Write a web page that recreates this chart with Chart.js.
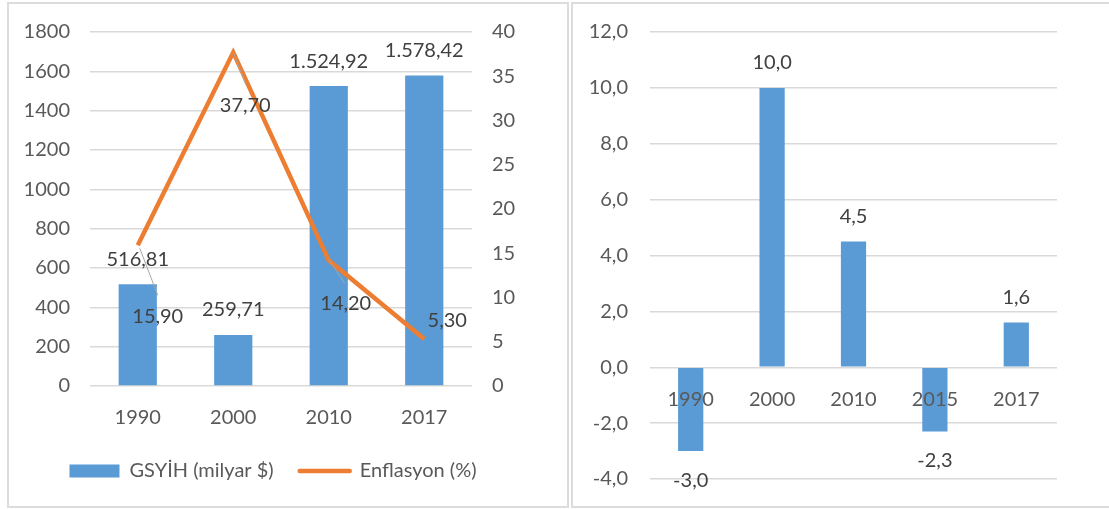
<!DOCTYPE html>
<html>
<head>
<meta charset="utf-8">
<script src="https://cdn.jsdelivr.net/npm/chart.js@4/dist/chart.umd.min.js"></script>
<style>
    body { margin: 0; background: #fff; width: 1109px; height: 509px; overflow: hidden; position: relative; }
    .panel { position: absolute; border: 2px solid #dcdcdc; box-sizing: border-box; }
    #leftPanel { left: 7px; top: 2px; width: 562px; height: 506px; }
    #rightPanel { left: 571px; top: 2px; width: 545px; height: 506px; }
    canvas { position: absolute; }
    #gdpChart { left: 9px; top: 4px; }
    #growthChart { left: 573px; top: 4px; }
</style>
</head>
<body>
<div class="panel" id="leftPanel"></div>
<div class="panel" id="rightPanel"></div>
<canvas id="gdpChart" width="558" height="502"></canvas>
<canvas id="growthChart" width="536" height="503"></canvas>
<script>
// --- data ---
const years = ['1990', '2000', '2010', '2017'];
const gdpValues = [516.81, 259.71, 1524.92, 1578.42];
const inflationValues = [15.90, 37.70, 14.20, 5.30];
const gdpTicks = { min: 0, max: 1800, step: 200 };
const inflationTicks = { min: 0, max: 40, step: 5 };

const growthYears = ['1990', '2000', '2010', '2015', '2017'];
const growthValues = [-3.0, 10.0, 4.5, -2.3, 1.6];
const growthTicks = { min: -4, max: 12, step: 2 };

const BLUE = '#5B9BD5';
const ORANGE = '#ED7D31';
const LABEL_COLOR = '#404040';
const FONT_SIZE = 20;

// label offsets for the inflation line (dx, dy from the point, plus leader line ends)
const lineLabelOffsets = [
    { dx: 20, dy: 71, leader: [2, 3, 20, 50] },
    { dx: 12, dy: 53, leader: [0, 0, 13, 33] },
    { dx: 17, dy: 43, leader: [0, -1, 16, 23] },
    { dx: 23, dy: -19, leader: null }
];

Chart.defaults.font.family = 'Lato, "Open Sans", sans-serif';
Chart.defaults.font.size = FONT_SIZE;
Chart.defaults.color = '#595959';
Chart.defaults.animation = false;

function trNum(v, digits) {
    const neg = v < 0;
    const parts = Math.abs(v).toFixed(digits).split('.');
    const intPart = parts[0].replace(/\B(?=(\d{3})+(?!\d))/g, '.');
    const s = parts[1] ? intPart + ',' + parts[1] : intPart;
    return neg ? '-' + s : s;
}

const labelsPlugin = {
    id: 'valueLabels',
    afterDatasetsDraw(chart, args, opts) {
        const ctx = chart.ctx;
        ctx.save();
        ctx.font = FONT_SIZE + 'px ' + Chart.defaults.font.family;
        ctx.fillStyle = LABEL_COLOR;
        ctx.textAlign = 'center';
        ctx.textBaseline = 'middle';
        chart.data.datasets.forEach((ds, di) => {
            const meta = chart.getDatasetMeta(di);
            meta.data.forEach((el, i) => {
                const v = ds.data[i];
                const text = trNum(v, opts.digits);
                if (ds.type === 'line') {
                    const off = lineLabelOffsets[i];
                    if (off.leader) {
                        ctx.save();
                        ctx.strokeStyle = '#a6a6a6';
                        ctx.lineWidth = 1;
                        ctx.beginPath();
                        ctx.moveTo(el.x + off.leader[0], el.y + off.leader[1]);
                        ctx.lineTo(el.x + off.leader[2], el.y + off.leader[3]);
                        ctx.stroke();
                        ctx.restore();
                    }
                    ctx.fillText(text, el.x + off.dx, el.y + off.dy);
                } else {
                    const dy = v < 0 ? 29 : -25;
                    ctx.fillText(text, el.x, el.y + dy);
                }
            });
        });
        ctx.restore();
    }
};

function gridOpts() {
    return { color: '#d9d9d9', lineWidth: 1.5, drawTicks: false };
}

// fixed axis width, and no extra vertical padding from the tick labels
function fixWidth(w) {
    return function (scale) {
        scale.width = w;
        scale.paddingTop = 0;
        scale.paddingBottom = 0;
    };
}

new Chart(document.getElementById('gdpChart'), {
    type: 'bar',
    data: {
        labels: years,
        datasets: [
            {
                type: 'bar',
                label: 'GSYİH (milyar $)',
                data: gdpValues,
                backgroundColor: BLUE,
                barPercentage: 0.4,
                categoryPercentage: 1,
                yAxisID: 'y',
                order: 2
            },
            {
                type: 'line',
                label: 'Enflasyon (%)',
                data: inflationValues,
                borderColor: ORANGE,
                backgroundColor: ORANGE,
                borderWidth: 4.5,
                pointRadius: 0,
                pointBorderColor: ORANGE,
                pointBackgroundColor: ORANGE,
                pointBorderWidth: 4.5,
                tension: 0,
                yAxisID: 'y1',
                order: 1
            }
        ]
    },
    options: {
        responsive: false,
        devicePixelRatio: 1,
        layout: { padding: { top: 28, bottom: 15, left: 0, right: 30 } },
        plugins: {
            tooltip: { enabled: false },
            valueLabels: { digits: 2 },
            legend: {
                position: 'bottom',
                labels: {
                    usePointStyle: true,
                    pointStyleWidth: 50,
                    boxHeight: 13,
                    padding: 26,
                    color: '#595959',
                    generateLabels(chart) {
                        const items = Chart.defaults.plugins.legend.labels.generateLabels(chart);
                        items.forEach(it => {
                            const ds = chart.data.datasets[it.datasetIndex];
                            if (ds.type === 'line') {
                                it.pointStyle = 'line';
                                it.strokeStyle = ORANGE;
                                it.lineWidth = 4.5;
                                it.lineCap = 'round';
                            } else {
                                it.pointStyle = 'rect';
                                it.fillStyle = BLUE;
                                it.lineWidth = 0;
                            }
                        });
                        return items.sort((a, b) => a.datasetIndex - b.datasetIndex);
                    }
                }
            }
        },
        scales: {
            x: {
                grid: { display: false, drawTicks: false },
                border: { display: false },
                ticks: { padding: 20 },
                afterFit(scale) { scale.height = 49; }
            },
            y: {
                position: 'left',
                min: gdpTicks.min,
                max: gdpTicks.max,
                grid: gridOpts(),
                border: { display: false },
                ticks: { stepSize: gdpTicks.step, padding: 20, callback: v => String(v) },
                afterFit: fixWidth(81)
            },
            y1: {
                position: 'right',
                min: inflationTicks.min,
                max: inflationTicks.max,
                grid: { display: false, drawTicks: false },
                border: { display: false },
                ticks: { stepSize: inflationTicks.step, padding: 20, callback: v => String(v) },
                afterFit: fixWidth(65)
            }
        }
    },
    plugins: [labelsPlugin]
});

new Chart(document.getElementById('growthChart'), {
    type: 'bar',
    data: {
        labels: growthYears,
        datasets: [{
            label: 'Büyüme (%)',
            data: growthValues,
            backgroundColor: BLUE,
            barPercentage: 0.31,
            categoryPercentage: 1
        }]
    },
    options: {
        responsive: false,
        devicePixelRatio: 1,
        layout: { padding: { top: 28, bottom: 28, left: 0, right: 52 } },
        plugins: {
            tooltip: { enabled: false },
            legend: { display: false },
            valueLabels: { digits: 1 }
        },
        scales: {
            x: {
                position: { y: 0 },
                grid: { display: false, drawTicks: false },
                border: { display: false },
                ticks: { padding: 20, z: 1 }
            },
            y: {
                min: growthTicks.min,
                max: growthTicks.max,
                grid: gridOpts(),
                border: { display: false },
                ticks: { stepSize: growthTicks.step, padding: 22, callback: v => trNum(v, 1) },
                afterFit: fixWidth(77)
            }
        }
    },
    plugins: [labelsPlugin]
});
</script>
</body>
</html>
